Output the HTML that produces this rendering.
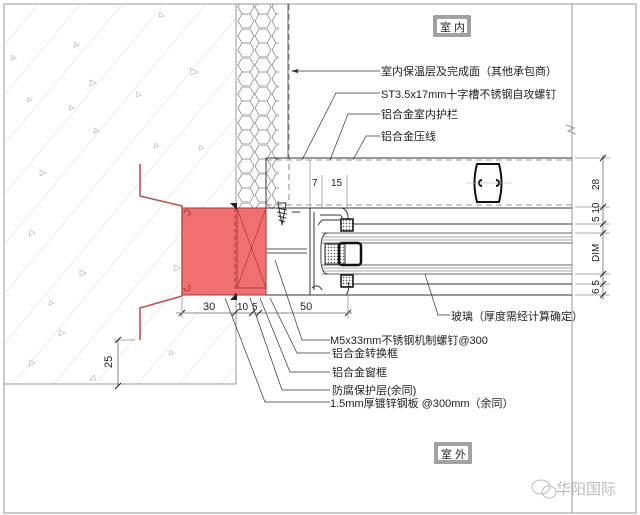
<!DOCTYPE html>
<html><head><meta charset="utf-8"><style>
html,body{margin:0;padding:0;background:#fff}
svg{display:block}
text{font-family:"Liberation Sans","Noto Sans CJK SC",sans-serif;fill:#222}
</style></head><body>
<svg width="640" height="515" viewBox="0 0 640 515" xmlns="http://www.w3.org/2000/svg">
<defs>
<pattern id="diag" width="32" height="32" patternUnits="userSpaceOnUse" patternTransform="rotate(40)">
<line x1="0" y1="0" x2="0" y2="32" stroke="#d8d8d8" stroke-width="1"/>
</pattern>
<pattern id="hex" width="17" height="29" patternUnits="userSpaceOnUse">
<path d="M4,0 L12,0 L16,7 L12,14 L4,14 L0,7 Z M4,14 L0,21 L4,28 M12,14 L16,21 L12,28 M0,7 L-4,7 M16,7 L17,7 M4,28 L12,28" fill="none" stroke="#777" stroke-width="0.7"/>
</pattern>
<pattern id="dots" width="3" height="3" patternUnits="userSpaceOnUse"><rect width="3" height="3" fill="#fff"/><circle cx="1.5" cy="1.5" r="0.8" fill="#555"/></pattern>
</defs>
<rect x="4" y="4" width="632" height="509" fill="none" stroke="#999" stroke-width="1"/>
<rect x="4" y="4" width="232" height="380" fill="url(#diag)"/>
<polyline points="4,384 236,384 236,4" fill="none" stroke="#999"/>
<g fill="none" stroke="#bbb" stroke-width="0.7">
<path d="M160,12 l4,4 l-5,1z M75,42 l4,3 l-5,2z M90,80 l6,3 l-6,3z M190,68 l8,4 l-7,3z M137,92 l4,3 l-5,2z M28,97 l4,3 l-5,2z M70,105 l4,3 l-5,2z M12,55 l4,3 l-5,2z M155,143 l4,3 l-5,2z M200,145 l4,3 l-5,2z M40,170 l6,3 l-6,3z M95,128 l4,3 l-5,2z M30,230 l5,3 l-6,3z M80,270 l6,3 l-6,3z M50,300 l4,3 l-5,2z M30,360 l5,3 l-6,3z M90,380 l4,-5 l2,5z M170,350 l4,3 l-5,2z M175,265 l5,3 l-6,3z M60,330 l5,3 l-6,3z"/>
</g>
<rect x="237" y="4" width="42" height="205" fill="url(#hex)"/>
<line x1="289" y1="4" x2="289" y2="205" stroke="#888" stroke-dasharray="6,4"/>
<line x1="288" y1="4" x2="288" y2="158" stroke="#666"/>
<line x1="572" y1="4" x2="572" y2="513" stroke="#999"/>
<path d="M566,125 l8,3 l-6,3 l8,3" fill="none" stroke="#999"/>
<line x1="266" y1="158" x2="572" y2="158" stroke="#333"/>
<line x1="266" y1="160" x2="572" y2="160" stroke="#999" stroke-dasharray="6,4"/>
<line x1="266" y1="158" x2="266" y2="208" stroke="#333"/>
<line x1="266" y1="205" x2="572" y2="205" stroke="#999" stroke-dasharray="6,4"/>
<line x1="300" y1="208" x2="572" y2="208" stroke="#333"/>
<path d="M477,164 L499,164 Q504,183 499,202 L477,202 Q472,183 477,164Z" fill="none" stroke="#111" stroke-width="2"/>
<path d="M482,180 a3,3 0 1,0 0,6 M496,180 a3,3 0 1,1 0,6" fill="none" stroke="#111" stroke-width="2"/>
<line x1="466" y1="183" x2="512" y2="183" stroke="#aaa" stroke-width="0.6"/>
<line x1="350" y1="224" x2="572" y2="224" stroke="#333"/>
<line x1="322" y1="233" x2="572" y2="233" stroke="#666"/>
<line x1="322" y1="237" x2="572" y2="237" stroke="#aaa"/>
<line x1="322" y1="240" x2="572" y2="240" stroke="#aaa"/>
<line x1="322" y1="243" x2="572" y2="243" stroke="#666"/>
<line x1="322" y1="265" x2="572" y2="265" stroke="#666"/>
<line x1="322" y1="268" x2="572" y2="268" stroke="#aaa"/>
<line x1="322" y1="271" x2="572" y2="271" stroke="#aaa"/>
<line x1="322" y1="274" x2="572" y2="274" stroke="#666"/>
<line x1="350" y1="284" x2="572" y2="284" stroke="#333"/>
<line x1="266" y1="295" x2="572" y2="295" stroke="#333"/>
<path d="M328,233 Q320,233 321,253 Q320,274 328,274" fill="none" stroke="#444"/>
<rect x="325" y="244" width="20" height="20" fill="url(#dots)" stroke="#333"/>
<rect x="339" y="243" width="22" height="22" rx="3" fill="none" stroke="#111" stroke-width="2.5"/>
<rect x="341" y="219" width="12" height="12" fill="url(#dots)" stroke="#111" stroke-width="1.5"/>
<rect x="341" y="275" width="12" height="12" fill="url(#dots)" stroke="#111" stroke-width="1.5"/>
<path d="M266,208 L342,208 Q348,210 348,218 L348,220 M310,208 L310,295 M314,212 L314,290 M266,295 L346,295 Q350,290 348,282" fill="none" stroke="#333"/>
<path d="M292,212 L300,212 M320,215 L340,215 Q344,218 340,220 L322,220 L318,225 M322,290 Q318,283 312,288" fill="none" stroke="#333"/>
<line x1="266" y1="249" x2="307" y2="249" stroke="#555"/>
<line x1="266" y1="253" x2="307" y2="253" stroke="#555"/>
<path d="M278,203 L282,225 L286,203 Z" fill="none" stroke="#333"/>
<path d="M277,208 l10,2 M277,212 l10,2 M278,216 l8,2 M279,220 l6,2" stroke="#333"/>
<rect x="182" y="208" width="84" height="87" fill="#f07070" stroke="#a33" stroke-width="1"/>
<line x1="235" y1="208" x2="235" y2="295" stroke="#a33" stroke-dasharray="4,3"/>
<rect x="237" y="208" width="29" height="80" fill="none" stroke="#a33"/>
<path d="M237,208 L266,288 M266,208 L237,288" stroke="#a33" stroke-width="0.7"/>
<path d="M237,210 L230,203 L237,203Z M237,293 L230,300 L237,300Z" fill="#222"/>
<polyline points="140,164 140,196 182,206 182,296 140,308 140,340" fill="none" stroke="#b55" stroke-width="1.6"/>
<path d="M184,213 a3,3 0 1,1 4,3 M184,288 a3,3 0 1,0 4,-3" fill="none" stroke="#a33"/>
<line x1="310" y1="160" x2="310" y2="207" stroke="#aaa"/>
<line x1="322" y1="175" x2="322" y2="207" stroke="#aaa"/>
<line x1="347" y1="175" x2="347" y2="207" stroke="#aaa"/>
<text x="312" y="186" font-size="10" fill="#555">7</text>
<text x="331" y="186" font-size="10" fill="#555">15</text>
<line x1="176" y1="313" x2="352" y2="313" stroke="#888"/>
<g stroke="#222"><path d="M179,316 l6,-6 M232,316 l6,-6 M249,316 l6,-6 M256,316 l6,-6 M345,316 l6,-6"/></g>
<line x1="182" y1="298" x2="182" y2="318" stroke="#aaa"/>
<line x1="348" y1="296" x2="348" y2="318" stroke="#aaa"/>
<text x="203" y="310" font-size="11" fill="#555">30</text>
<text x="237" y="310" font-size="10" fill="#555">10</text>
<text x="252" y="310" font-size="10" fill="#555">5</text>
<text x="300" y="310" font-size="11" fill="#555">50</text>
<line x1="118" y1="340" x2="118" y2="386" stroke="#888"/>
<line x1="114" y1="340" x2="135" y2="340" stroke="#aaa"/>
<path d="M115,343 l6,-6 M115,389 l6,-6" stroke="#222"/>
<text transform="translate(112,368) rotate(-90)" font-size="11" fill="#555">25</text>
<line x1="603" y1="155" x2="603" y2="300" stroke="#888"/>
<g stroke="#aaa"><path d="M575,158 h35 M575,207 h35 M575,224 h35 M575,233 h35 M575,274 h35 M575,284 h35 M575,295 h35"/></g>
<g stroke="#222"><path d="M600,161 l6,-6 M600,210 l6,-6 M600,227 l6,-6 M600,236 l6,-6 M600,277 l6,-6 M600,287 l6,-6 M600,298 l6,-6"/></g>
<g font-size="10" fill="#666">
<text transform="translate(599,190) rotate(-90)">28</text>
<text transform="translate(599,222) rotate(-90)">5 10</text>
<text transform="translate(599,262) rotate(-90)">DIM</text>
<text transform="translate(599,294) rotate(-90)">6 5</text>
</g>
<g fill="none" stroke="#333" stroke-width="0.7">
<path d="M292,71 L380,71"/>
<path d="M302,160 L336,93 L380,93"/>
<path d="M330,160 L348,114 L380,114"/>
<path d="M353,160 L366,136 L380,136"/>
<path d="M425,274 L438,315 L450,315"/>
<path d="M275,260 L302,340 L330,340"/>
<path d="M270,298 L297,353 L330,353"/>
<path d="M260,298 L290,372 L330,372"/>
<path d="M250,298 L282,390 L330,390"/>
<path d="M225,298 L265,402 L330,402"/>
</g>
<path d="M291,71 l7,-2 v4z" fill="#333"/>
<g font-size="11">
<text x="381" y="75">室内保温层及完成面（其他承包商）</text>
<text x="381" y="98">ST3.5x17mm十字槽不锈钢自攻螺钉</text>
<text x="381" y="118">铝合金室内护栏</text>
<text x="381" y="140">铝合金压线</text>
<text x="451" y="320">玻璃（厚度需经计算确定）</text>
<text x="330" y="344">M5x33mm不锈钢机制螺钉@300</text>
<text x="332" y="357">铝合金转换框</text>
<text x="332" y="376">铝合金窗框</text>
<text x="332" y="394">防腐保护层(余同)</text>
<text x="330" y="407">1.5mm厚镀锌钢板  @300mm（余同）</text>
</g>
<rect x="434" y="16" width="36" height="20" fill="none" stroke="#444"/>
<rect x="436" y="18" width="32" height="16" fill="none" stroke="#444"/>
<text x="440" y="31" font-size="11">室 内</text>
<rect x="435" y="443" width="36" height="20" fill="none" stroke="#444"/>
<rect x="437" y="445" width="32" height="16" fill="none" stroke="#444"/>
<text x="441" y="458" font-size="11">室 外</text>
<ellipse cx="541" cy="487" rx="9" ry="7" fill="none" stroke="#bbb"/>
<ellipse cx="549" cy="492" rx="7" ry="6" fill="none" stroke="#bbb"/>
<text x="556" y="494" font-size="15" style="fill:#bbb">华阳国际</text>
</svg>
</body></html>
